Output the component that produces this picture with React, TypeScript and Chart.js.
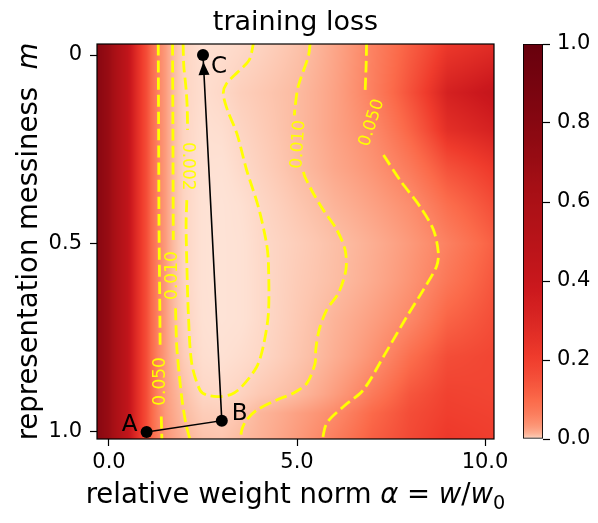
import React, { useEffect, useRef } from "react";
import { Chart, registerables } from "chart.js";

Chart.register(...registerables);

const FONT = "'DejaVu Sans', 'Liberation Sans', sans-serif";

// ---------------- data ----------------
const TITLE = "training loss";

// heat-map grid (relative weight norm alpha x representation messiness m) -> training loss
const alphaGrid = [-0.32, 0, 0.5, 1, 1.5, 2, 2.5, 3, 3.5, 4, 5, 6, 7, 8, 9, 10.24];
const messGrid = [-0.03, 0.1, 0.2, 0.3, 0.4, 0.5, 0.6, 0.7, 0.8, 0.9, 0.95, 1.02];
const lossRowM000 = [0.8, 0.7, 0.45, 0.16, 0.03, 0.0025, 0.001, 0.0012, 0.0017, 0.0026, 0.0068, 0.021, 0.058, 0.12, 0.22, 0.27];
const lossRowM010 = [0.8, 0.7, 0.45, 0.16, 0.03, 0.0025, 0.0012, 0.0019, 0.0035, 0.005, 0.01, 0.024, 0.062, 0.15, 0.33, 0.42];
const lossRowM020 = [0.8, 0.7, 0.45, 0.16, 0.03, 0.0025, 0.001, 0.0012, 0.0024, 0.004, 0.0102, 0.024, 0.047, 0.11, 0.26, 0.33];
const lossRowM030 = [0.8, 0.7, 0.45, 0.16, 0.03, 0.0025, 0.0009, 0.0008, 0.0017, 0.003, 0.0088, 0.02, 0.036, 0.07, 0.15, 0.22];
const lossRowM040 = [0.8, 0.7, 0.45, 0.16, 0.03, 0.0025, 0.0008, 0.0006, 0.001, 0.002, 0.0055, 0.013, 0.024, 0.043, 0.09, 0.16];
const lossRowM050 = [0.8, 0.7, 0.45, 0.16, 0.03, 0.0025, 0.0008, 0.0006, 0.0008, 0.0017, 0.0037, 0.0081, 0.016, 0.031, 0.06, 0.12];
const lossRowM060 = [0.8, 0.7, 0.45, 0.16, 0.03, 0.0025, 0.0008, 0.0006, 0.0008, 0.0016, 0.0042, 0.0088, 0.018, 0.036, 0.075, 0.14];
const lossRowM070 = [0.8, 0.7, 0.45, 0.16, 0.03, 0.003, 0.0009, 0.0006, 0.0008, 0.0016, 0.0048, 0.013, 0.026, 0.05, 0.11, 0.16];
const lossRowM080 = [0.8, 0.7, 0.45, 0.16, 0.03, 0.004, 0.0012, 0.0009, 0.0013, 0.002, 0.0058, 0.016, 0.038, 0.09, 0.16, 0.18];
const lossRowM090 = [0.8, 0.7, 0.45, 0.16, 0.03, 0.008, 0.0022, 0.0019, 0.0028, 0.005, 0.0105, 0.028, 0.07, 0.14, 0.19, 0.18];
const lossRowM095 = [0.8, 0.7, 0.45, 0.16, 0.032, 0.01, 0.004, 0.0035, 0.006, 0.012, 0.025, 0.047, 0.1, 0.16, 0.2, 0.19];
const lossRowM100 = [0.8, 0.7, 0.45, 0.16, 0.035, 0.014, 0.007, 0.006, 0.01, 0.014, 0.03, 0.065, 0.12, 0.17, 0.22, 0.2];
const lossGrid = [lossRowM000, lossRowM010, lossRowM020, lossRowM030, lossRowM040, lossRowM050,
  lossRowM060, lossRowM070, lossRowM080, lossRowM090, lossRowM095, lossRowM100];

// contour paths [alpha, m]
const c050LeftA = [[1.31, -0.03], [1.32, 0.2], [1.33, 0.45], [1.35, 0.65], [1.36, 0.774]];
const c050LeftB = [[1.39, 0.959], [1.41, 1.03]];
const c010LeftA = [[1.69, -0.03], [1.70, 0.2], [1.71, 0.491]];
const c010LeftB = [[1.77, 0.672], [1.80, 0.77], [1.87, 0.85], [1.95, 0.92], [2.05, 0.98], [2.18, 1.03]];
const c002A = [[1.97, -0.03], [1.99, 0.03], [2.05, 0.09], [2.08, 0.14], [2.09, 0.199]];
const c002B = [[2.07, 0.385], [2.05, 0.45], [2.07, 0.553], [2.11, 0.685], [2.20, 0.818], [2.42, 0.889],
  [2.60, 0.902], [2.91, 0.906], [3.26, 0.900], [3.53, 0.880], [3.93, 0.827], [4.10, 0.774], [4.24, 0.685],
  [4.24, 0.553], [4.19, 0.500], [3.97, 0.402], [3.66, 0.305], [3.40, 0.208], [3.15, 0.146], [3.04, 0.102],
  [3.13, 0.075], [3.44, 0.044], [3.73, 0.013], [3.84, -0.03]];
const c010RightA = [[5.35, -0.03], [5.30, 0.004], [5.03, 0.084], [4.95, 0.137], [4.93, 0.16]];
const c010RightB = [[5.17, 0.31], [5.21, 0.323], [5.45, 0.37], [5.70, 0.411], [6.06, 0.464], [6.28, 0.517],
  [6.30, 0.570], [6.10, 0.632], [5.79, 0.676], [5.59, 0.729], [5.50, 0.78], [5.48, 0.818], [5.26, 0.871],
  [4.90, 0.897], [4.46, 0.915], [3.93, 0.942], [3.66, 0.968], [3.53, 0.995], [3.50, 1.03]];
const c050RightA = [[6.85, -0.03], [6.84, 0.022], [6.81, 0.10]];
const c050RightB = [[7.30, 0.265], [7.74, 0.332], [8.27, 0.402], [8.63, 0.464], [8.76, 0.526], [8.71, 0.561],
  [8.36, 0.623], [7.92, 0.694], [7.30, 0.800], [6.76, 0.889], [6.23, 0.933], [5.79, 0.977], [5.66, 1.03]];
const contourPaths = [c050LeftA, c050LeftB, c010LeftA, c010LeftB, c002A, c002B, c010RightA, c010RightB, c050RightA, c050RightB];

const contourLabelText = ["0.050", "0.010", "0.002", "0.010", "0.050"];
const contourLabelAlpha = [1.37, 1.70, 2.08, 5.04, 6.99];
const contourLabelMess = [0.866, 0.585, 0.295, 0.237, 0.18];
const contourLabelAngle = [-90, -90, 90, -86, -72];

// training path A -> B -> C
const pathAlpha = [1.0, 3.0, 2.5];
const pathMess = [1.0, 0.97, 0.0];
const pathLabels = ["A", "B", "C"];

// axes
const X_MIN = -0.319, X_MAX = 10.239;
const Y_MIN = -0.0292, Y_MAX = 1.0186;
const xTickValues = [0, 5, 10];
const xTickLabels = ["0.0", "5.0", "10.0"];
const yTickValues = [0, 0.5, 1];
const yTickLabels = ["0", "0.5", "1.0"];
const cbTickValues = [0, 0.2, 0.4, 0.6, 0.8, 1.0];
const cbTickLabels = ["0.0", "0.2", "0.4", "0.6", "0.8", "1.0"];

// ---------------- colour map ----------------
const REDS = [[255, 245, 240], [254, 224, 210], [252, 187, 161], [252, 146, 114], [251, 106, 74],
  [239, 59, 44], [203, 24, 29], [165, 15, 21], [103, 0, 13]];
const GAMMA = 0.3;

function redsColor(t: number): number[] {
  const c = Math.max(0, Math.min(1, t)) * (REDS.length - 1);
  const i = Math.min(REDS.length - 2, Math.floor(c));
  const f = c - i;
  const a = REDS[i], b = REDS[i + 1];
  return [a[0] + (b[0] - a[0]) * f, a[1] + (b[1] - a[1]) * f, a[2] + (b[2] - a[2]) * f];
}
function lossColor(v: number): number[] {
  return redsColor(Math.pow(Math.max(0, Math.min(1, v)), GAMMA));
}

const logGrid = lossGrid.map((r) => r.map((v) => Math.log10(v)));

function locate(arr: number[], v: number): [number, number] {
  const n = arr.length;
  if (v <= arr[0]) return [0, 0];
  if (v >= arr[n - 1]) return [n - 2, 1];
  for (let i = 0; i < n - 1; i++) {
    if (v <= arr[i + 1]) return [i, (v - arr[i]) / (arr[i + 1] - arr[i])];
  }
  return [n - 2, 1];
}
function lossAt(a: number, m: number): number {
  const [i, fx] = locate(alphaGrid, a);
  const [j, fy] = locate(messGrid, m);
  const l00 = logGrid[j][i], l01 = logGrid[j][i + 1];
  const l10 = logGrid[j + 1][i], l11 = logGrid[j + 1][i + 1];
  const top = l00 + (l01 - l00) * fx;
  const bot = l10 + (l11 - l10) * fx;
  return Math.pow(10, top + (bot - top) * fy);
}

// ---------------- text helpers ----------------
type Part = { t: string; italic?: boolean; sub?: boolean };
function drawParts(ctx: CanvasRenderingContext2D, parts: Part[], size: number, cx: number, baseline: number) {
  const fontOf = (p: Part) => `${p.italic ? "italic " : ""}${p.sub ? size * 0.7 : size}px ${FONT}`;
  const widths = parts.map((p) => { ctx.font = fontOf(p); return ctx.measureText(p.t).width; });
  const total = widths.reduce((s, w) => s + w, 0);
  let x = cx - total / 2;
  ctx.textAlign = "left";
  ctx.textBaseline = "alphabetic";
  parts.forEach((p, k) => {
    ctx.font = fontOf(p);
    ctx.fillText(p.t, x, baseline + (p.sub ? size * 0.2 : 0));
    x += widths[k];
  });
}

const heatmapPlugin = {
  id: "heatmap",
  beforeDatasetsDraw(chart: any) {
    const { ctx, chartArea: a, scales } = chart;
    const w = Math.round(a.right - a.left), h = Math.round(a.bottom - a.top);
    const off = document.createElement("canvas");
    off.width = w; off.height = h;
    const octx = off.getContext("2d")!;
    const img = octx.createImageData(w, h);
    for (let j = 0; j < h; j++) {
      const m = scales.y.getValueForPixel(a.top + j + 0.5);
      for (let i = 0; i < w; i++) {
        const av = scales.x.getValueForPixel(a.left + i + 0.5);
        const c = lossColor(lossAt(av, m));
        const k = (j * w + i) * 4;
        img.data[k] = c[0]; img.data[k + 1] = c[1]; img.data[k + 2] = c[2]; img.data[k + 3] = 255;
      }
    }
    octx.putImageData(img, 0, 0);
    ctx.drawImage(off, a.left, a.top);
  },
};

const overlayPlugin = {
  id: "overlay",
  afterDatasetsDraw(chart: any) {
    const { ctx, chartArea: a, scales } = chart;
    const px = (v: number) => scales.x.getPixelForValue(v);
    const py = (v: number) => scales.y.getPixelForValue(v);
    ctx.save();
    // contour labels
    ctx.fillStyle = "#ffff00";
    ctx.font = `17px ${FONT}`;
    ctx.textAlign = "center";
    ctx.textBaseline = "middle";
    contourLabelText.forEach((t, k) => {
      ctx.save();
      ctx.translate(px(contourLabelAlpha[k]), py(contourLabelMess[k]));
      ctx.rotate((contourLabelAngle[k] * Math.PI) / 180);
      ctx.fillText(t, 0, 0);
      ctx.restore();
    });
    // arrow head at C
    const bx = px(pathAlpha[1]), by = py(pathMess[1]);
    const cx = px(pathAlpha[2]), cy = py(pathMess[2]);
    const len = Math.hypot(cx - bx, cy - by);
    const ux = (cx - bx) / len, uy = (cy - by) / len;
    const tipX = cx - ux * 7, tipY = cy - uy * 7;
    const baseX = cx - ux * 20, baseY = cy - uy * 20;
    ctx.fillStyle = "#000";
    ctx.beginPath();
    ctx.moveTo(tipX, tipY);
    ctx.lineTo(baseX - uy * 5.5, baseY + ux * 5.5);
    ctx.lineTo(baseX + uy * 5.5, baseY - ux * 5.5);
    ctx.closePath();
    ctx.fill();
    // point labels
    ctx.font = `23px ${FONT}`;
    ctx.textBaseline = "alphabetic";
    const offs = [[-9, -1, "right"], [10, -1, "left"], [8, 18, "left"]];
    pathLabels.forEach((t, k) => {
      ctx.textAlign = offs[k][2] as CanvasTextAlign;
      ctx.fillText(t, px(pathAlpha[k]) + (offs[k][0] as number), py(pathMess[k]) + (offs[k][1] as number));
    });
    // frame
    ctx.strokeStyle = "#000";
    ctx.lineWidth = 1.2;
    ctx.strokeRect(a.left, a.top, a.right - a.left, a.bottom - a.top);
    ctx.restore();
  },
  afterDraw(chart: any) {
    const { ctx, chartArea: a } = chart;
    ctx.save();
    ctx.fillStyle = "#000";
    const cxm = (a.left + a.right) / 2;
    drawParts(ctx, [{ t: TITLE }], 27, cxm, 30);
    drawParts(ctx, [{ t: "relative weight norm " }, { t: "\u03b1", italic: true }, { t: " = " },
      { t: "w", italic: true }, { t: "/" }, { t: "w", italic: true }, { t: "0", sub: true }], 27.5, cxm, 503);
    ctx.translate(37, (a.top + a.bottom) / 2);
    ctx.rotate(-Math.PI / 2);
    drawParts(ctx, [{ t: "representation messiness  " }, { t: "m", italic: true }], 27.5, 0, 0);
    ctx.restore();
  },
};

export default function App() {
  const mainRef = useRef<HTMLCanvasElement>(null);
  const cbRef = useRef<HTMLCanvasElement>(null);

  useEffect(() => {
    const contourDatasets = contourPaths.map((p) => ({
      type: "scatter" as const,
      data: p.map(([x, y]) => ({ x, y })),
      showLine: true,
      borderColor: "#ffff00",
      borderWidth: 2.8,
      borderDash: [12, 5],
      pointRadius: 0,
      tension: 0.3,
      clip: 0,
      order: 2,
    }));
    const pathDataset = {
      type: "scatter" as const,
      data: pathAlpha.map((x, k) => ({ x, y: pathMess[k] })),
      showLine: true,
      borderColor: "#000",
      borderWidth: 1.6,
      pointRadius: 6,
      pointBackgroundColor: "#000",
      pointBorderColor: "#000",
      pointBorderWidth: 0,
      clip: 0,
      order: 1,
    };
    const tickFont = { family: FONT, size: 21 };
    const main = new Chart(mainRef.current!, {
      type: "scatter",
      data: { datasets: [...contourDatasets, pathDataset] as any },
      options: {
        responsive: false,
        animation: false,
        devicePixelRatio: 1,
        layout: { padding: { left: 0, right: 104, top: 44, bottom: 0 } },
        plugins: { legend: { display: false }, tooltip: { enabled: false }, title: { display: false } },
        scales: {
          x: {
            type: "linear", min: X_MIN, max: X_MAX,
            afterBuildTicks: (ax: any) => { ax.ticks = xTickValues.map((v) => ({ value: v })); },
            afterFit: (s: any) => { s.height = 84; },
            ticks: {
              font: tickFont, color: "#000", padding: 4, maxRotation: 0, autoSkip: false,
              callback: (v: any) => xTickLabels[xTickValues.indexOf(Number(v))],
            },
            grid: { drawOnChartArea: false, drawTicks: true, tickLength: 7, tickWidth: 1.2, tickColor: "#000" },
            border: { display: false },
          },
          y: {
            type: "linear", min: Y_MIN, max: Y_MAX, reverse: true,
            afterBuildTicks: (ax: any) => { ax.ticks = yTickValues.map((v) => ({ value: v })); },
            afterFit: (s: any) => { s.width = 97; },
            ticks: {
              font: tickFont, color: "#000", padding: 8, autoSkip: false,
              callback: (v: any) => yTickLabels[yTickValues.indexOf(Number(v))],
            },
            grid: { drawOnChartArea: false, drawTicks: true, tickLength: 7, tickWidth: 1.2, tickColor: "#000" },
            border: { display: false },
          },
        },
      },
      plugins: [heatmapPlugin, overlayPlugin],
    });

    const cb = new Chart(cbRef.current!, {
      type: "bar",
      data: {
        labels: ["loss"],
        datasets: [{
          data: [[0, 1]] as any,
          backgroundColor: (c: any) => {
            const ch = c.chart;
            const a = ch.chartArea;
            if (!a) return "#fb6a4a";
            const g = ch.ctx.createLinearGradient(0, a.bottom, 0, a.top);
            for (let k = 0; k <= 200; k++) {
              const v = k / 200;
              const col = lossColor(v);
              g.addColorStop(v, `rgb(${col[0].toFixed(0)},${col[1].toFixed(0)},${col[2].toFixed(0)})`);
            }
            return g;
          },
          borderColor: "#000",
          borderWidth: 1.2,
          borderSkipped: false,
          barPercentage: 1,
          categoryPercentage: 1,
        }],
      },
      options: {
        responsive: false,
        animation: false,
        devicePixelRatio: 1,
        layout: { padding: { left: 25, right: 0, top: 44, bottom: 84 } },
        plugins: { legend: { display: false }, tooltip: { enabled: false } },
        scales: {
          x: { display: false },
          y: {
            position: "right", min: 0, max: 1,
            afterBuildTicks: (ax: any) => { ax.ticks = cbTickValues.map((v) => ({ value: v })); },
            afterFit: (s: any) => { s.width = 55; },
            ticks: {
              font: tickFont, color: "#000", padding: 7,
              callback: (v: any) => cbTickLabels[cbTickValues.indexOf(Number(v))],
            },
            grid: { drawOnChartArea: false, drawTicks: true, tickLength: 7, tickWidth: 1.2, tickColor: "#000" },
            border: { display: false },
          },
        },
      },
    });

    return () => { main.destroy(); cb.destroy(); };
  }, []);

  return (
    <div style={{ position: "absolute", left: 0, top: 0, width: 598, height: 523, background: "#fff" }}>
      <canvas ref={mainRef} width={598} height={523} style={{ position: "absolute", left: 0, top: 0 }} />
      <canvas ref={cbRef} width={100} height={523} style={{ position: "absolute", left: 498, top: 0 }} />
    </div>
  );
}
